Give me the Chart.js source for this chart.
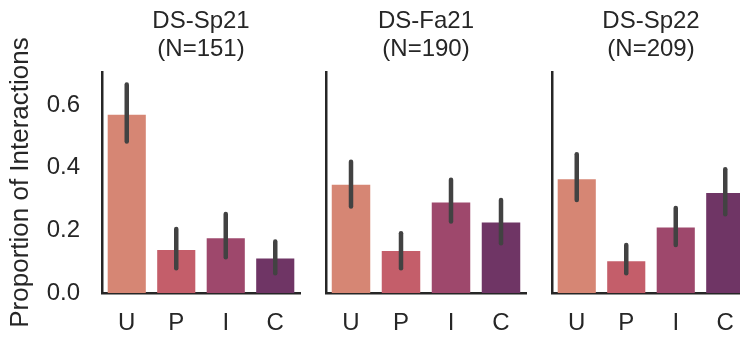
<!DOCTYPE html>
<html lang="en">
<head>
    <meta charset="UTF-8">
    <title>Proportion of Interactions</title>
    <style>
        body {margin: 0;
              width: 740px;
              height: 338px;
              overflow: hidden;
              background: #fff;
              position: relative;}

        canvas {position: absolute;
                top: 0;}
    </style>
    <script src="https://cdn.jsdelivr.net/npm/chart.js"></script>
</head>
<body>
    <canvas id="c1" width="310" height="338" style="left:0px"></canvas>
    <canvas id="c2" width="226" height="338" style="left:310px"></canvas>
    <canvas id="c3" width="224" height="338" style="left:536px"></canvas>

    <script>
        // data
        const categories = ['U', 'P', 'I', 'C'];
        const barColors = ['#d68674', '#c45e6a', '#9e486c', '#6f3565'];
        const yTicks = [0, 0.2, 0.4, 0.6];

        const titlesSp21 = ['DS-Sp21', '(N=151)'];
        const valuesSp21 = [0.569, 0.137, 0.175, 0.110];
        const lowSp21    = [0.483, 0.079, 0.114, 0.063];
        const highSp21   = [0.665, 0.204, 0.252, 0.164];

        const titlesFa21 = ['DS-Fa21', '(N=190)'];
        const valuesFa21 = [0.345, 0.134, 0.289, 0.225];
        const lowFa21    = [0.276, 0.079, 0.228, 0.159];
        const highFa21   = [0.419, 0.191, 0.361, 0.297];

        const titlesSp22 = ['DS-Sp22', '(N=209)'];
        const valuesSp22 = [0.363, 0.101, 0.209, 0.319];
        const lowSp22    = [0.297, 0.063, 0.153, 0.251];
        const highSp22   = [0.443, 0.153, 0.271, 0.395];

        const fontFam = "'Liberation Sans', Arial, sans-serif";
        const ink = '#262626';

        // draws the error bars through the chart's own scales
        const errorBars = {
            id: 'errorBars',
            afterDatasetsDraw(chart, args, opts) {
                const ctx = chart.ctx;
                const xs = chart.scales.x;
                const ys = chart.scales.y;
                ctx.save();
                ctx.strokeStyle = '#424242';
                ctx.lineWidth = 4.5;
                ctx.lineCap = 'round';
                opts.low.forEach((lo, i) => {
                    const x = xs.getPixelForValue(i);
                    ctx.beginPath();
                    ctx.moveTo(x, ys.getPixelForValue(lo));
                    ctx.lineTo(x, ys.getPixelForValue(opts.high[i]));
                    ctx.stroke();
                });
                ctx.restore();
            }
        };

        function panel(id, titles, values, low, high, firstPanel) {
            new Chart(document.getElementById(id), {
                type: 'bar',
                data: {
                    labels: categories,
                    datasets: [{
                        data: values,
                        backgroundColor: barColors,
                        borderWidth: 0,
                        barPercentage: 0.77,
                        categoryPercentage: 1}]},
                plugins: [errorBars],
                options: {
                    responsive: false,
                    animation: false,
                    devicePixelRatio: 1,
                    layout: {padding: {left: 0, right: 10, top: 0, bottom: 0}},
                    plugins: {
                        legend: {display: false},
                        tooltip: {enabled: false},
                        title: {
                            display: true,
                            fullSize: false,
                            text: titles,
                            color: ink,
                            font: {family: fontFam, size: 24, weight: 'normal', lineHeight: 1.15},
                            padding: {top: 7.5, bottom: 9.3}},
                        errorBars: {low: low, high: high}},
                    scales: {
                        x: {
                            grid: {display: false, drawTicks: false},
                            border: {display: true, color: ink, width: 2.5},
                            ticks: {color: ink, padding: 16,
                                    font: {family: fontFam, size: 24}},
                            afterFit: s => { s.height = 45; }},
                        y: {
                            min: 0,
                            max: 0.705,
                            grid: {display: false, drawTicks: false},
                            border: {display: true, color: ink, width: 2.5},
                            afterBuildTicks: s => { s.ticks = yTicks.map(v => ({value: v})); },
                            ticks: {display: firstPanel, color: ink, padding: 22,
                                    font: {family: fontFam, size: 24},
                                    callback: v => v.toFixed(1)},
                            title: {display: firstPanel, text: 'Proportion of Interactions',
                                    color: ink, padding: {top: 5, bottom: 0},
                                    font: {family: fontFam, size: 26}},
                            afterFit: s => { s.width = firstPanel ? 102 : 16; }}}}});
        }

        panel('c1', titlesSp21, valuesSp21, lowSp21, highSp21, true);
        panel('c2', titlesFa21, valuesFa21, lowFa21, highFa21, false);
        panel('c3', titlesSp22, valuesSp22, lowSp22, highSp22, false);
    </script>
</body>
</html>
